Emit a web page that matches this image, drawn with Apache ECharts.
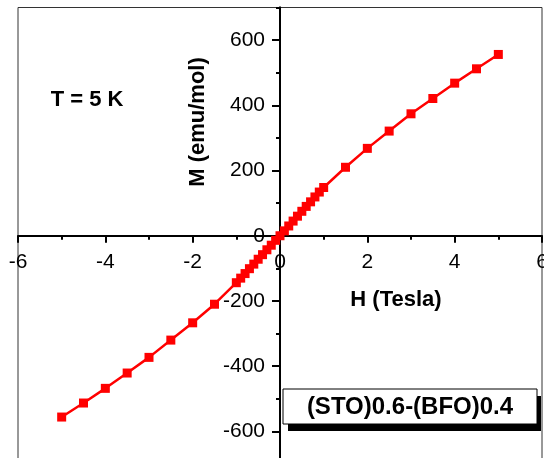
<!DOCTYPE html>
<html>
<head>
<meta charset="UTF-8">
<script type="text/javascript" src="https://cdn.jsdelivr.net/npm/echarts@6.0.0/dist/echarts.min.js"></script>
<title>M-H</title>
<style>html,body{margin:0;padding:0;background:#fff;}</style>
</head>
<body>
	<div id="main" style="width:544px;height:458px;"></div>
	<script type="text/javascript">
		// field (Tesla) and magnetisation (emu/mol)
		var fieldH = [-5,-4.5,-4,-3.5,-3,-2.5,-2,-1.5,-1,
			-0.9,-0.8,-0.7,-0.6,-0.5,-0.4,-0.3,-0.2,-0.1,0,
			0.1,0.2,0.3,0.4,0.5,0.6,0.7,0.8,0.9,
			1,1.5,2,2.5,3,3.5,4,4.5,5];
		var momentM = [-556,-513,-468,-421,-373,-320,-267,-210,-144,
			-130,-116,-101,-87,-72,-58,-43,-29,-14,0,
			15,30,45,60,75,90,104,119,134,
			148,210,268,321,374,421,468,512,556];
		var yMajor = [-600,-400,-200,0,200,400,600];

		var font = 'Liberation Sans, Arial, sans-serif';
		var pts = [];
		for (var i = 0; i < fieldH.length; i++) {
			pts.push([fieldH[i], momentM[i]]);
		}

		// grid box: x 18..542, y 7.5..464 ; axes cross at (0,0)
		var gl = 18, gr = 2, gt = 7.5, gb = -6;
		var gw = 544 - gl - gr, gh = 458 - gt - gb;
		var xOff = -gw / 2;   // move y axis from left edge to H = 0
		var yOff = -gh / 2;   // move x axis from bottom edge to M = 0

		var myChart = echarts.init(document.getElementById('main'));
		var option = {
			animation: false,
			grid: {
				left: gl, right: gr, top: gt, bottom: gb,
				containLabel: false, outerBoundsMode: 'none',
				show: true, borderColor: '#333', borderWidth: 1
			},
			xAxis: {
				type: 'value', min: -6, max: 6, interval: 2,
				position: 'bottom', offset: yOff,
				axisLine: {onZero: false, lineStyle: {color: '#000', width: 2}},
				axisTick: {show: true, length: 7, lineStyle: {color: '#000', width: 2}},
				minorTick: {show: true, splitNumber: 2, length: 4, lineStyle: {color: '#000', width: 2}},
				axisLabel: {
					margin: 16, color: '#000', fontSize: 21, fontFamily: font,
					showMinLabel: true, showMaxLabel: true, hideOverlap: false
				},
				splitLine: {show: false}
			},
			yAxis: [{
				type: 'value', min: -700, max: 700, interval: 100,
				position: 'left', offset: xOff,
				axisLine: {onZero: false, lineStyle: {color: '#000', width: 2}},
				axisTick: {show: true, length: 4, lineStyle: {color: '#000', width: 2}},
				axisLabel: {show: false},
				splitLine: {show: false}
			}, {
				type: 'value', min: -700, max: 700,
				position: 'left', offset: xOff,
				axisLine: {show: true, onZero: false, lineStyle: {color: '#000', width: 2}},
				axisTick: {show: true, length: 8, customValues: yMajor, lineStyle: {color: '#000', width: 2}},
				axisLabel: {
					margin: 15, color: '#000', fontSize: 21, fontFamily: font,
					customValues: yMajor
				},
				splitLine: {show: false}
			}],
			graphic: [
				{type: 'text', x: 87, y: 100, style: {text: 'T = 5 K', font: 'bold 22px ' + font, fill: '#000', textAlign: 'center', textVerticalAlign: 'middle'}},
				{type: 'text', x: 198, y: 122, rotation: Math.PI / 2, style: {text: 'M (emu/mol)', font: 'bold 22px ' + font, fill: '#000', textAlign: 'center', textVerticalAlign: 'middle'}},
				{type: 'text', x: 396, y: 300, style: {text: 'H (Tesla)', font: 'bold 22px ' + font, fill: '#000', textAlign: 'center', textVerticalAlign: 'middle'}},
				{type: 'rect', shape: {x: 288, y: 396, width: 253, height: 35}, style: {fill: '#000'}, z: 10},
				{type: 'rect', shape: {x: 283, y: 389, width: 254, height: 35}, style: {fill: '#fff', stroke: '#000', lineWidth: 1}, z: 11},
				{type: 'text', x: 410, y: 407, z: 12, style: {text: '(STO)0.6-(BFO)0.4', font: 'bold 24px ' + font, fill: '#000', textAlign: 'center', textVerticalAlign: 'middle'}}
			],
			series: [{
				type: 'line',
				yAxisIndex: 0,
				data: pts,
				symbol: 'rect',
				symbolSize: 9,
				lineStyle: {color: '#ff0000', width: 2.5},
				itemStyle: {color: '#ff0000'},
				z: 5
			}]
		};
		myChart.setOption(option);
	</script>
</body>
</html>
